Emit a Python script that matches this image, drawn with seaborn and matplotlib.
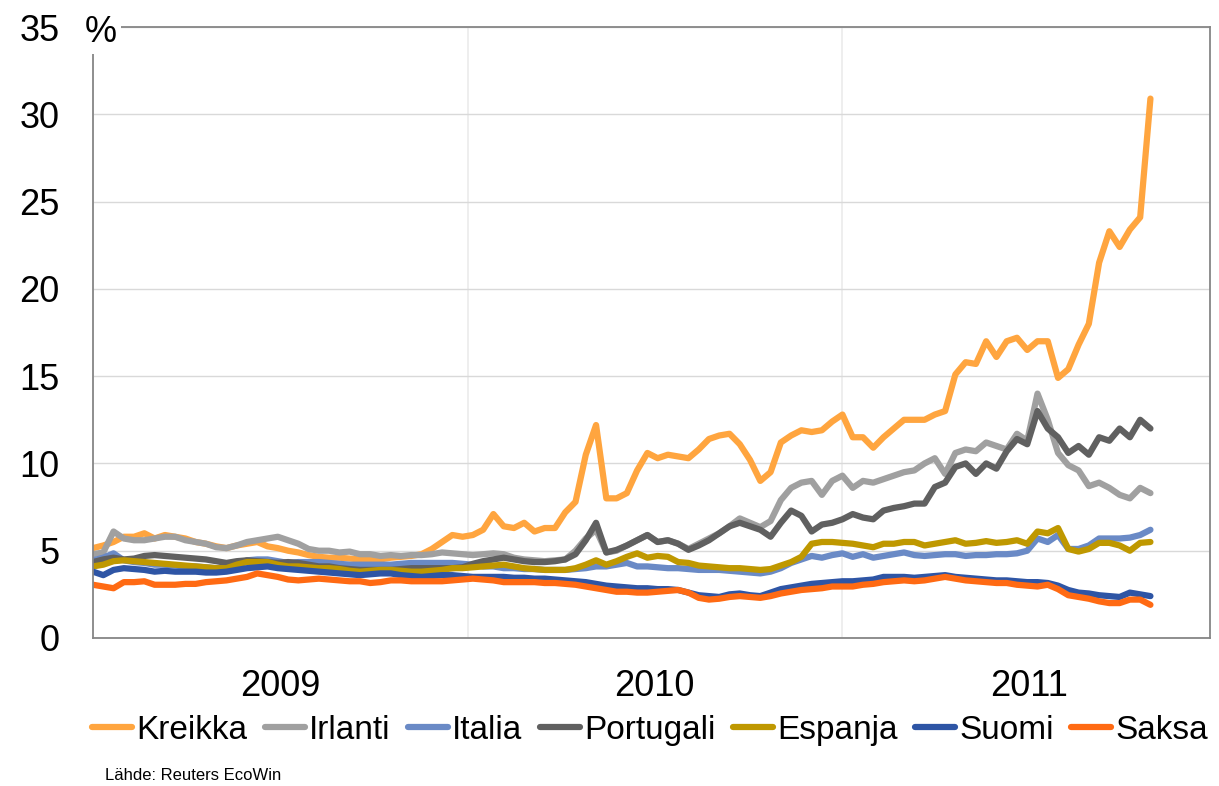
import pandas as pd
import seaborn as sns
import matplotlib.pyplot as plt
import matplotlib.dates as mdates
import matplotlib.ticker as mticker

# 10-day sampling grid
dates = pd.date_range("2009-01-01", periods=104, freq="10D")

countries = ["Kreikka", "Irlanti", "Italia", "Portugali", "Espanja", "Suomi", "Saksa"]
colors = ["#FFA53F", "#A0A0A0", "#6A8AC6", "#606060", "#BF9800", "#2E55A5", "#FF6A13"]

kreikka = [5.15, 5.3, 5.5, 5.8, 5.8, 6.0, 5.7, 5.9, 5.8, 5.7,
           5.5, 5.4, 5.25, 5.15, 5.3, 5.4, 5.5, 5.25, 5.15, 5.0,
           4.9, 4.75, 4.65, 4.6, 4.6, 4.55, 4.5, 4.5, 4.5, 4.6,
           4.65, 4.7, 4.8, 5.1, 5.5, 5.9, 5.8, 5.9, 6.2, 7.1,
           6.4, 6.3, 6.6, 6.1, 6.3, 6.3, 7.2, 7.8, 10.5, 12.2,
           8.0, 8.0, 8.3, 9.6, 10.6, 10.3, 10.5, 10.4, 10.3, 10.8,
           11.4, 11.6, 11.7, 11.1, 10.2, 9.0, 9.5, 11.2, 11.6, 11.9,
           11.8, 11.9, 12.4, 12.8, 11.5, 11.5, 10.9, 11.5, 12.0, 12.5,
           12.5, 12.5, 12.8, 13.0, 15.1, 15.8, 15.7, 17.0, 16.1, 17.0,
           17.2, 16.5, 17.0, 17.0, 14.9, 15.4, 16.8, 18.0, 21.5, 23.3,
           22.4, 23.4, 24.1, 30.9]

irlanti = [4.8, 4.9, 6.1, 5.7, 5.6, 5.6, 5.7, 5.8, 5.8, 5.6,
           5.5, 5.4, 5.2, 5.15, 5.3, 5.5, 5.6, 5.7, 5.8, 5.6,
           5.4, 5.1, 5.0, 5.0, 4.9, 4.95, 4.8, 4.8, 4.7, 4.75,
           4.7, 4.75, 4.75, 4.8, 4.9, 4.85, 4.8, 4.75, 4.8, 4.85,
           4.8, 4.6, 4.5, 4.45, 4.4, 4.45, 4.5, 5.0, 5.7, 6.2,
           4.9, 5.0, 5.3, 5.6, 5.9, 5.5, 5.6, 5.4, 5.1, 5.4,
           5.7, 6.0, 6.4, 6.85, 6.6, 6.35, 6.7, 7.9, 8.6, 8.9,
           9.0, 8.2, 9.0, 9.3, 8.6, 9.0, 8.9, 9.1, 9.3, 9.5,
           9.6, 10.0, 10.3, 9.4, 10.6, 10.8, 10.7, 11.2, 11.0, 10.8,
           11.7, 11.3, 14.0, 12.5, 10.6, 9.9, 9.6, 8.7, 8.9, 8.6,
           8.2, 8.0, 8.6, 8.3]

italia = [4.45, 4.6, 4.85, 4.45, 4.35, 4.3, 4.2, 4.2, 4.15, 4.1,
          4.1, 4.05, 4.0, 4.0, 4.2, 4.45, 4.5, 4.5, 4.4, 4.3,
          4.35, 4.35, 4.35, 4.3, 4.25, 4.2, 4.2, 4.2, 4.2, 4.2,
          4.25, 4.3, 4.3, 4.3, 4.3, 4.3, 4.25, 4.2, 4.1, 4.1,
          4.0, 4.0, 3.95, 3.95, 3.9, 3.9, 3.9, 3.95, 4.0, 4.1,
          4.1, 4.2, 4.3, 4.1, 4.1, 4.05, 4.0, 4.0, 3.95, 3.9,
          3.9, 3.9, 3.85, 3.8, 3.75, 3.7, 3.8, 4.0, 4.3, 4.5,
          4.7, 4.6, 4.75, 4.85, 4.65, 4.8, 4.6, 4.7, 4.8, 4.9,
          4.75, 4.7, 4.75, 4.8, 4.8, 4.7, 4.75, 4.75, 4.8, 4.8,
          4.85, 5.0, 5.7, 5.5, 5.9, 5.1, 5.1, 5.3, 5.7, 5.7,
          5.7, 5.75, 5.9, 6.2]

portugali = [4.35, 4.5, 4.6, 4.5, 4.55, 4.7, 4.75, 4.7, 4.65, 4.6,
             4.55, 4.5, 4.4, 4.3, 4.4, 4.45, 4.4, 4.35, 4.3, 4.35,
             4.3, 4.2, 4.1, 4.1, 4.0, 3.95, 3.9, 3.9, 3.9, 3.9,
             3.95, 4.0, 4.0, 4.0, 4.0, 4.0, 4.05, 4.25, 4.4, 4.5,
             4.6, 4.5, 4.4, 4.35, 4.35, 4.4, 4.5, 4.8, 5.6, 6.6,
             4.9, 5.05, 5.3, 5.6, 5.9, 5.5, 5.6, 5.4, 5.05, 5.3,
             5.6, 6.0, 6.4, 6.6, 6.4, 6.2, 5.8, 6.6, 7.3, 7.0,
             6.1, 6.5, 6.6, 6.8, 7.1, 6.9, 6.8, 7.3, 7.45, 7.55,
             7.7, 7.7, 8.65, 8.9, 9.8, 10.0, 9.4, 10.0, 9.7, 10.7,
             11.4, 11.1, 13.0, 12.0, 11.5, 10.6, 11.0, 10.5, 11.5, 11.3,
             12.0, 11.5, 12.5, 12.0]

espanja = [4.1, 4.2, 4.4, 4.45, 4.4, 4.35, 4.3, 4.25, 4.2, 4.15,
           4.1, 4.05, 4.0, 4.0, 4.2, 4.35, 4.35, 4.35, 4.2, 4.1,
           4.1, 4.05, 4.0, 4.0, 3.95, 3.85, 3.8, 3.85, 3.9, 3.9,
           3.85, 3.8, 3.8, 3.85, 3.9, 4.0, 4.0, 4.05, 4.1, 4.15,
           4.2, 4.1, 4.0, 3.95, 3.9, 3.9, 3.9, 4.0, 4.2, 4.45,
           4.2, 4.4, 4.65, 4.85, 4.6, 4.7, 4.65, 4.35, 4.3, 4.15,
           4.1, 4.05, 4.0, 4.0, 3.95, 3.9, 3.95, 4.15, 4.35, 4.65,
           5.4, 5.5, 5.5, 5.45, 5.4, 5.3, 5.2, 5.4, 5.4, 5.5,
           5.5, 5.3, 5.4, 5.5, 5.6, 5.4, 5.45, 5.55, 5.45, 5.5,
           5.6, 5.4, 6.1, 6.0, 6.3, 5.1, 4.95, 5.1, 5.45, 5.45,
           5.3, 5.0, 5.45, 5.5]

suomi = [3.8, 3.6, 3.9, 4.0, 3.95, 3.9, 3.8, 3.85, 3.8, 3.8,
         3.8, 3.75, 3.75, 3.8, 3.9, 4.0, 4.05, 4.1, 4.0, 3.95,
         3.9, 3.85, 3.8, 3.75, 3.7, 3.65, 3.6, 3.65, 3.7, 3.7,
         3.6, 3.55, 3.5, 3.55, 3.6, 3.6, 3.55, 3.5, 3.5, 3.5,
         3.5, 3.45, 3.45, 3.4, 3.4, 3.35, 3.3, 3.25, 3.2, 3.1,
         3.0, 2.95, 2.9, 2.85, 2.85, 2.8, 2.8, 2.75, 2.6, 2.45,
         2.4, 2.35, 2.5, 2.55, 2.45, 2.4, 2.6, 2.8, 2.9, 3.0,
         3.1, 3.15, 3.2, 3.25, 3.25, 3.3, 3.35, 3.5, 3.5, 3.5,
         3.45, 3.5, 3.55, 3.6, 3.5, 3.45, 3.4, 3.35, 3.3, 3.3,
         3.25, 3.2, 3.2, 3.15, 3.0, 2.75, 2.6, 2.55, 2.45, 2.4,
         2.35, 2.6, 2.5, 2.4]

saksa = [3.05, 2.95, 2.85, 3.2, 3.2, 3.25, 3.05, 3.05, 3.05, 3.1,
         3.1, 3.2, 3.25, 3.3, 3.4, 3.5, 3.7, 3.6, 3.5, 3.35,
         3.3, 3.35, 3.4, 3.35, 3.3, 3.25, 3.25, 3.15, 3.2, 3.3,
         3.3, 3.25, 3.25, 3.25, 3.25, 3.3, 3.35, 3.4, 3.35, 3.3,
         3.2, 3.2, 3.2, 3.2, 3.15, 3.15, 3.1, 3.05, 2.95, 2.85,
         2.75, 2.65, 2.65, 2.6, 2.6, 2.65, 2.7, 2.75, 2.6, 2.3,
         2.2, 2.25, 2.35, 2.4, 2.35, 2.3, 2.4, 2.55, 2.65, 2.75,
         2.8, 2.85, 2.95, 2.95, 2.95, 3.05, 3.1, 3.2, 3.25, 3.3,
         3.25, 3.3, 3.4, 3.5, 3.4, 3.3, 3.25, 3.2, 3.15, 3.15,
         3.05, 3.0, 2.95, 3.05, 2.8, 2.45, 2.35, 2.25, 2.1, 2.0,
         2.0, 2.2, 2.2, 1.9]

series = [kreikka, irlanti, italia, portugali, espanja, suomi, saksa]
df = pd.concat([pd.DataFrame({"date": dates, "value": vals, "country": name})
                for name, vals in zip(countries, series)], ignore_index=True)

sns.set_style("white")
plt.rcParams["font.family"] = ["Liberation Sans", "DejaVu Sans"]
plt.rcParams["text.color"] = "black"
plt.rcParams["xtick.color"] = "black"
plt.rcParams["ytick.color"] = "black"

fig = plt.figure(figsize=(12.19, 7.86), dpi=100)
ax = fig.add_axes([0.0763, 0.1883, 0.9163, 0.7773])

sns.lineplot(data=df, x="date", y="value", hue="country", hue_order=countries,
             palette=dict(zip(countries, colors)), linewidth=4.5, sort=False, ax=ax)

handles, labels = ax.get_legend_handles_labels()
ax.get_legend().remove()

ax.set_xlim(pd.Timestamp("2009-01-01"), pd.Timestamp("2011-12-25"))
ax.set_ylim(0, 35)
ax.set_yticks(range(0, 36, 5))
ax.set_xlabel("")
ax.set_ylabel("")

# year gridlines at Jan 1, year labels centred in between
ax.xaxis.set_major_locator(mdates.YearLocator())
ax.xaxis.set_major_formatter(mticker.NullFormatter())
ax.xaxis.set_minor_locator(mdates.MonthLocator(bymonth=7, bymonthday=2))
ax.xaxis.set_minor_formatter(mdates.DateFormatter("%Y"))
ax.tick_params(axis="x", which="both", length=0, labelsize=26, pad=22, labelcolor="black")
ax.tick_params(axis="y", length=0, labelsize=26, pad=24, labelcolor="black")

ax.grid(axis="y", color="#D9D9D9", linewidth=1)
ax.grid(axis="x", which="major", color="#EBEBEB", linewidth=1.2)
ax.set_axisbelow(True)
for s in ax.spines.values():
    s.set_color("#868686")
    s.set_linewidth(1.3)
    s.set_visible(True)

fig.text(0.0697, 1 - 42 / 786, "%", fontsize=26, ha="left", va="baseline",
         bbox=dict(facecolor="white", edgecolor="none", pad=3))

leg = fig.legend(handles, labels, loc="center left", bbox_to_anchor=(0.0755, 0.071),
                 ncol=7, frameon=False, fontsize=24, handlelength=1.2,
                 handletextpad=0.12, columnspacing=0.53, borderpad=0, borderaxespad=0)
for h in leg.legend_handles:
    h.set_linewidth(4.5)

fig.text(105 / 1219, 1 - 775 / 786, "Lähde: Reuters EcoWin", fontsize=12,
         ha="left", va="center")

plt.savefig("out.png", dpi=100)
